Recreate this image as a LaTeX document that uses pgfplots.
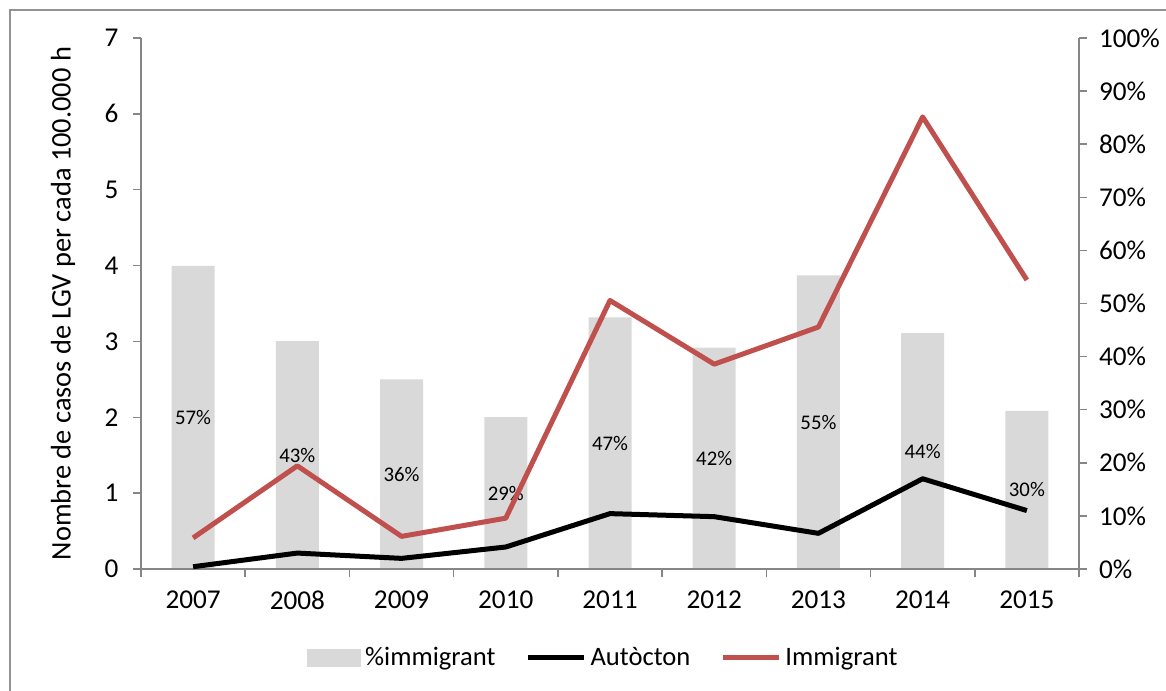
\documentclass[border=0pt]{standalone}
\usepackage{fontspec}
\setmainfont{Carlito}
\usepackage{pgfplots}
\pgfplotsset{compat=1.18}
\usepackage{pgfplotstable}
\definecolor{bargray}{HTML}{D9D9D9}
\definecolor{redline}{HTML}{C0504D}
\definecolor{axisgray}{HTML}{868686}

\pgfplotstableread{
x pct mid label
0 57.1 28.55 57
1 42.9 21.45 43
2 35.7 17.85 36
3 28.6 14.30 29
4 47.4 23.70 47
5 41.7 20.85 42
6 55.3 27.65 55
7 44.4 22.20 44
8 29.8 14.90 30
}\bardata

\pgfplotstableread{
x aut imm
0 0.03 0.41
1 0.21 1.36
2 0.14 0.43
3 0.29 0.67
4 0.73 3.54
5 0.69 2.70
6 0.47 3.19
7 1.19 5.96
8 0.77 3.81
}\linedata

\pgfplotsset{
  common/.style={
    at={(70.5pt,60.5pt)}, anchor=south west,
    scale only axis, width=469pt, height=265.5pt,
    xmin=-0.5, xmax=8.5,
    tick align=outside, major tick length=4pt, minor tick length=4pt,
    axis line style={draw=axisgray, line width=0.75pt},
    tick style={draw=axisgray, line width=0.75pt},
    ticklabel style={font=\fontsize{13.6}{15}\selectfont},
  },
  linelegend/.style={legend image code/.code={\draw[##1] (0pt,0pt) -- (28pt,0pt);}},
}

\begin{document}
\begin{tikzpicture}
\begin{axis}[common,
  ymin=0, ymax=100,
  axis x line=none, axis y line*=right,
  ytick={0,10,...,100},
  yticklabels={0\%,10\%,20\%,30\%,40\%,50\%,60\%,70\%,80\%,90\%,100\%},
  yticklabel style={xshift=2.5pt},
  clip=false,
]
\addplot[ybar, bar width=21.5pt, fill=bargray, draw=none] table[x=x,y=pct]{\bardata};
\addplot[draw=none, mark=none, point meta=explicit symbolic,
  nodes near coords={\pgfplotspointmeta\%},
  every node near coord/.append style={anchor=center, font=\fontsize{10.4}{12}\selectfont, text=black}]
  table[x=x,y=mid,meta=label]{\bardata};
\end{axis}

\begin{axis}[common,
  ymin=0, ymax=7,
  axis x line*=bottom, axis y line*=left,
  xtick={0,...,8},
  xticklabels={2007,2008,2009,2010,2011,2012,2013,2014,2015},
  minor xtick={-0.5,0.5,...,8.5},
  major x tick style={draw=none},
  xticklabel style={yshift=-3.5pt},
  ytick={0,...,7},
  yticklabels={0,1,2,3,4,5,6,7},
  yticklabel style={xshift=-3.7pt},
  ylabel={Nombre de casos de LGV per cada 100.000 h},
  ylabel style={font=\fontsize{14.2}{16}\selectfont, at={(axis description cs:-0.083,0.5)}, anchor=center},
  clip=false,
  legend columns=3,
  legend style={at={(0.494,-0.1676)}, anchor=center, draw=none, fill=none,
    font=\fontsize{13.3}{15}\selectfont,
    /tikz/every even column/.append style={column sep=13pt}},
]
\addlegendimage{legend image code/.code={\fill[bargray] (0pt,-4.25pt) rectangle (26.5pt,4.25pt);}}
\addlegendentry{\%immigrant}
\addplot[linelegend, black, line width=2.5pt, line join=round, mark=none] table[x=x,y=aut]{\linedata};
\addlegendentry{Autòcton}
\addplot[linelegend, redline, line width=2.5pt, line join=round, mark=none] table[x=x,y=imm]{\linedata};
\addlegendentry{Immigrant}
\end{axis}
\draw[axisgray!90, line width=0.75pt] (5pt,-10pt) rectangle (600pt,340pt);
\pgfresetboundingbox
\useasboundingbox (0pt,0pt) rectangle (583pt,345pt);
\end{tikzpicture}
\end{document}
